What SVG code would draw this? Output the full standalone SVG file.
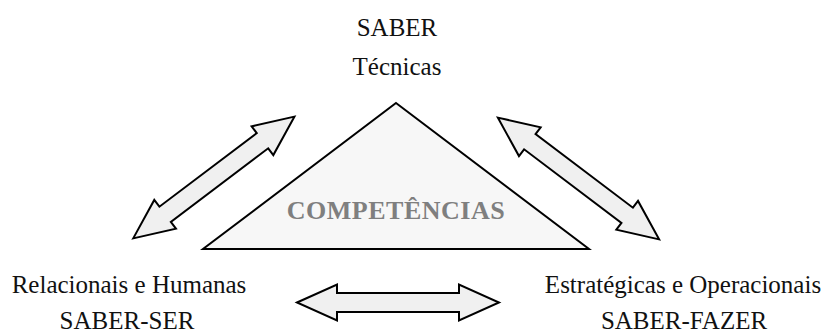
<svg xmlns="http://www.w3.org/2000/svg" xmlns:xlink="http://www.w3.org/1999/xlink" width="827" height="335" viewBox="0 0 827 335">
  <style>
    .lbl { font-family: "Liberation Serif", "Times New Roman", serif; font-size: 25px; fill: #111111; text-anchor: middle; }
    .core { font-family: "Liberation Serif", "Times New Roman", serif; font-size: 26px; font-weight: bold; fill: #7f7f7f; text-anchor: middle; letter-spacing: 0.5px; }
    .tri { fill: #f7f7f7; stroke: #000000; stroke-width: 2; stroke-linejoin: miter; }
    .arr { fill: #f0f0f0; stroke: #000000; stroke-width: 2; stroke-linejoin: miter; }
  </style>
  <defs>
    <path id="dblArrow" d="M -101 0 L -61 -18 L -61 -9.5 L 61 -9.5 L 61 -18 L 101 0 L 61 18 L 61 9.5 L -61 9.5 L -61 18 Z"/>
  </defs>
  <rect x="0" y="0" width="827" height="335" fill="#ffffff"/>

  <g id="connectors">
    <use xlink:href="#dblArrow" href="#dblArrow" class="arr" transform="translate(213.8,177.5) rotate(-37.06)"/>
    <use xlink:href="#dblArrow" href="#dblArrow" class="arr" transform="translate(578.5,178.5) rotate(37.06)"/>
    <use xlink:href="#dblArrow" href="#dblArrow" class="arr" transform="translate(398,302.5)"/>
  </g>

  <g id="competencias">
    <polygon class="tri" points="396,103 589,249 203,249"/>
    <text class="core" x="396" y="219">COMPETÊNCIAS</text>
  </g>

  <g id="saber">
    <text class="lbl" x="397" y="36">SABER</text>
    <text class="lbl" x="397" y="75">Técnicas</text>
  </g>

  <g id="saber-ser">
    <text class="lbl" x="129" y="293">Relacionais e Humanas</text>
    <text class="lbl" x="127" y="329">SABER-SER</text>
  </g>

  <g id="saber-fazer">
    <text class="lbl" x="683" y="293">Estratégicas e Operacionais</text>
    <text class="lbl" x="684" y="329">SABER-FAZER</text>
  </g>
</svg>
